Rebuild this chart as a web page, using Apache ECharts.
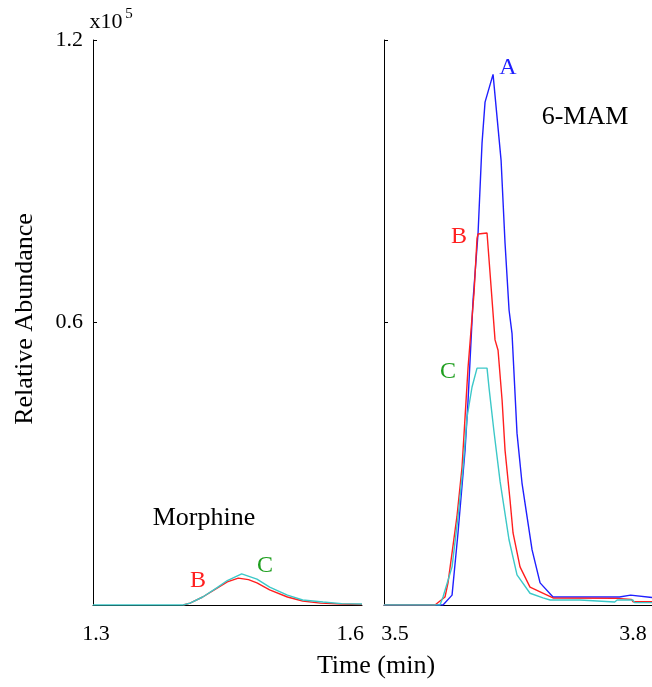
<!DOCTYPE html>
<html>
<head>
<meta charset="utf-8">
<script src="https://cdn.jsdelivr.net/npm/echarts@6/dist/echarts.min.js"></script>
<style>html,body{margin:0;padding:0;background:#fff}#c{width:652px;height:687px}</style>
</head>
<body>
<div id="c"></div>
<script>
// ---- Data (abundance in units of 1e5) ----
// Morphine panel (time in min)
const morphTimeB = [1.403, 1.411, 1.426, 1.443, 1.455, 1.468, 1.480, 1.490, 1.505, 1.526, 1.544, 1.565, 1.590, 1.614];
const morphB     = [0.000, 0.004, 0.017, 0.036, 0.049, 0.057, 0.054, 0.047, 0.032, 0.017, 0.0085, 0.004, 0.002, 0.001];
const morphTimeC = [1.2965, 1.403, 1.411, 1.426, 1.443, 1.455, 1.472, 1.490, 1.505, 1.526, 1.544, 1.568, 1.590, 1.614];
const morphC     = [0.000, 0.000, 0.004, 0.017, 0.037, 0.052, 0.066, 0.055, 0.038, 0.021, 0.0106, 0.0064, 0.003, 0.002];

// 6-MAM panel
const mamTimeA = [3.486, 3.5605, 3.5719, 3.5794, 3.5883, 3.5921, 3.5984, 3.6047, 3.6097, 3.6135, 3.6236, 3.6337, 3.6387, 3.6438, 3.6475, 3.6538, 3.6601, 3.6665, 3.6728, 3.6829, 3.6992, 3.750, 3.783, 3.785, 3.797, 3.799, 3.824];
const mamA     = [0.000, 0.000, 0.021, 0.153, 0.329, 0.435, 0.648, 0.790, 0.981, 1.068, 1.127, 0.945, 0.769, 0.626, 0.577, 0.365, 0.259, 0.187, 0.117, 0.047, 0.017, 0.017, 0.017, 0.021, 0.021, 0.017, 0.016];
const mamTimeB = [3.486, 3.5504, 3.563, 3.5668, 3.578, 3.5845, 3.5883, 3.5921, 3.5971, 3.5996, 3.6034, 3.6047, 3.616, 3.6198, 3.6261, 3.6299, 3.635, 3.6387, 3.645, 3.6488, 3.6576, 3.6702, 3.6917, 3.6992, 3.780, 3.782, 3.798, 3.800, 3.824];
const mamB     = [0.000, 0.000, 0.017, 0.047, 0.187, 0.293, 0.399, 0.505, 0.611, 0.662, 0.779, 0.788, 0.790, 0.705, 0.563, 0.541, 0.435, 0.329, 0.223, 0.153, 0.081, 0.038, 0.021, 0.015, 0.014, 0.012, 0.012, 0.007, 0.007];
const mamTimeC = [3.486, 3.5567, 3.5605, 3.5719, 3.5794, 3.5858, 3.5908, 3.5971, 3.6034, 3.616, 3.6186, 3.6248, 3.6325, 3.6438, 3.6538, 3.6702, 3.6866, 3.6955, 3.733, 3.735, 3.777, 3.780, 3.800, 3.802, 3.824];
const mamC     = [0.000, 0.000, 0.017, 0.081, 0.187, 0.293, 0.399, 0.463, 0.503, 0.503, 0.460, 0.368, 0.262, 0.138, 0.064, 0.025, 0.015, 0.0106, 0.0106, 0.0064, 0.0064, 0.0106, 0.0106, 0.005, 0.005];

const yTicks = [0, 0.6, 1.2];
const leftTickLabels = [1.3, 1.6];
const rightTickLabels = [3.5, 3.8];

const FONT = 'Liberation Serif';
const BLUE = '#1f1fff', RED = '#ff1f1f', CYAN = '#3cc8c8', GREEN = '#1f9f1f';

function pairs(t, v) { return t.map((x, i) => [x, v[i]]); }

const chart = echarts.init(document.getElementById('c'), null, {renderer: 'canvas'});

function yAxisCfg(idx, showLabel) {
  return {
    gridIndex: idx, type: 'value', min: yTicks[0], max: yTicks[2], interval: yTicks[1],
    axisLine: {show: true, lineStyle: {color: '#000', width: 1}},
    axisTick: {show: true, inside: true, length: 4, lineStyle: {color: '#000'}},
    axisLabel: {show: showLabel, margin: 10, color: '#000', fontFamily: FONT, fontSize: 22,
      formatter: v => (v === 0 ? '' : v.toFixed(1))},
    splitLine: {show: false}
  };
}
function xAxisCfg(idx, min, max, labels) {
  return {
    gridIndex: idx, type: 'value', min: min, max: max,
    axisLine: {show: true, onZero: false, lineStyle: {color: '#000', width: 1}},
    axisTick: {show: false},
    axisLabel: {show: true, customValues: labels, margin: 18, color: '#000', fontFamily: FONT, fontSize: 22,
      formatter: v => v.toFixed(1)},
    splitLine: {show: false}
  };
}
function lineSeries(xi, data, color) {
  return {type: 'line', xAxisIndex: xi, yAxisIndex: xi, data: data, showSymbol: false, symbol: 'none',
    lineStyle: {color: color, width: 1.4}, animation: false, silent: true, clip: true};
}
function txt(x, y, text, size, color, extra) {
  return Object.assign({type: 'text', x: x, y: y, silent: true,
    style: {text: text, fill: color, font: size + 'px "' + FONT + '"', align: 'center', verticalAlign: 'middle'}}, extra || {});
}

chart.setOption({
  animation: false,
  backgroundColor: '#fff',
  grid: [
    {left: 93, top: 40, width: 269, height: 565},
    {left: 384, top: 40, width: 268, height: 565}
  ],
  xAxis: [xAxisCfg(0, 1.2965, 1.614, leftTickLabels), xAxisCfg(1, 3.4861, 3.824, rightTickLabels)],
  yAxis: [yAxisCfg(0, true), yAxisCfg(1, false)],
  series: [
    lineSeries(0, pairs(morphTimeB, morphB), RED),
    lineSeries(0, pairs(morphTimeC, morphC), CYAN),
    lineSeries(1, pairs(mamTimeA, mamA), BLUE),
    lineSeries(1, pairs(mamTimeB, mamB), RED),
    lineSeries(1, pairs(mamTimeC, mamC), CYAN)
  ],
  graphic: [
    txt(106, 22, 'x10', 22, '#000'),
    txt(129, 14, '5', 15, '#000'),
    txt(25, 319, 'Relative Abundance', 26, '#000', {rotation: Math.PI / 2}),
    txt(376, 666, 'Time (min)', 26, '#000'),
    txt(204, 518, 'Morphine', 26, '#000'),
    txt(585, 117, '6-MAM', 26, '#000'),
    txt(508, 68, 'A', 24, BLUE),
    txt(459, 237, 'B', 24, RED),
    txt(448, 372, 'C', 24, GREEN),
    txt(198, 581, 'B', 24, RED),
    txt(265, 566, 'C', 24, GREEN)
  ]
});
</script>
</body>
</html>
